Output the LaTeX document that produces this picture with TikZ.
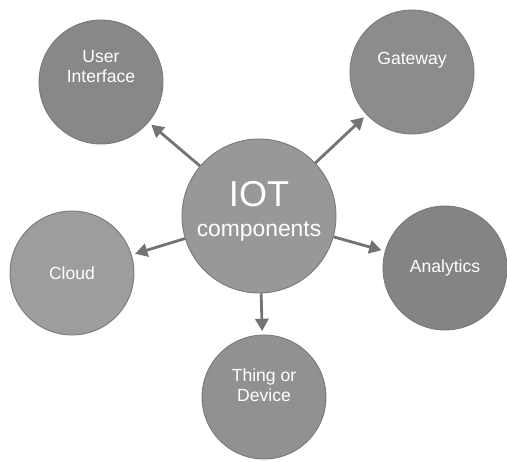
\documentclass[tikz,border=0pt]{standalone}
\usepackage{fontspec}
\setmainfont{Liberation Sans}
\usetikzlibrary{arrows.meta}
\definecolor{hubgray}{RGB}{152,152,152}
\definecolor{leafgray}{RGB}{140,140,140}
\definecolor{rimgray}{RGB}{120,120,120}
\definecolor{arrowgray}{RGB}{115,115,115}
\begin{document}
\begin{tikzpicture}[x=0.02cm, y=-0.02cm,
  leaf/.style={circle, draw=rimgray, line width=0.5pt, fill=leafgray, minimum size=2.48cm, inner sep=0pt, align=center, text=white, font=\fontsize{10}{11.5}\selectfont},
  link/.style={draw=arrowgray, line width=1.6pt, -{Triangle[length=7pt,width=7.5pt]}, shorten >=2pt}]
\useasboundingbox (0,0) rectangle (507,461);
\node[circle, draw=rimgray, line width=0.5pt, fill=hubgray, minimum size=3.08cm, inner sep=0pt, align=center, text=white, font=\fontsize{13}{16}\selectfont] (iot) at (259,216){{\fontsize{20.5}{22}\selectfont IOT}\\[1pt]components\\[-8pt]};
\node[leaf, fill=leafgray!97!black] (ui) at (101,82){User\\Interface\\[6pt]};
\node[leaf] (gw) at (412,72){Gateway\\[4pt]};
\node[leaf, fill=hubgray!95!white] (cloud) at (72,273){Cloud};
\node[leaf, fill=leafgray!94!black] (ana) at (445,268){Analytics};
\node[leaf, fill=leafgray!60!hubgray] (thing) at (264,397){Thing or\\Device\\[2pt]};
\draw[link](iot) -- (ui);
\draw[link](iot) -- (gw);
\draw[link](iot) -- (cloud);
\draw[link](iot) -- (ana);
\draw[link](iot) -- (thing);
\end{tikzpicture}
\end{document}
